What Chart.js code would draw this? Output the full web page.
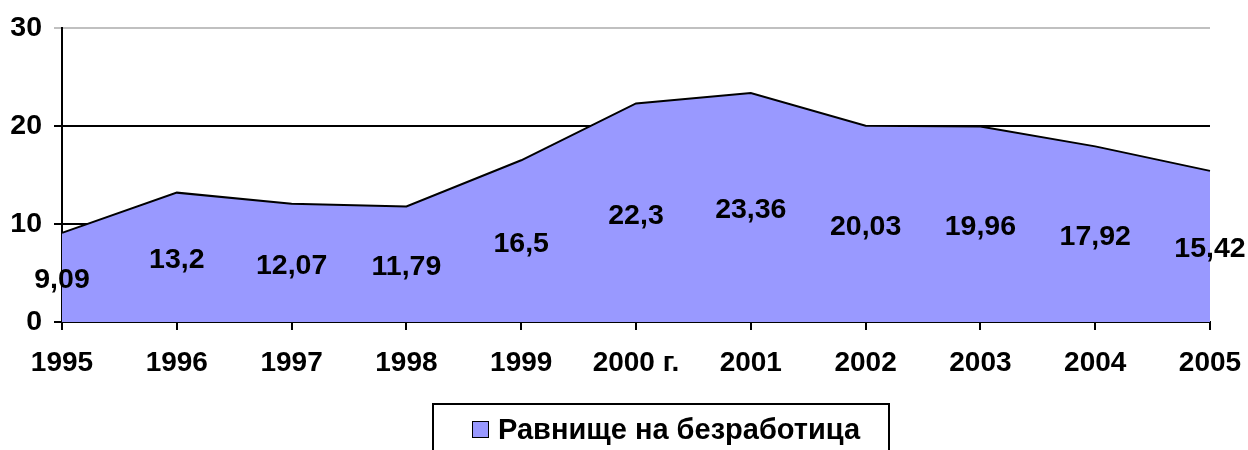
<!DOCTYPE html>
<html>
<head>
<meta charset="utf-8">
<script src="https://cdn.jsdelivr.net/npm/chart.js@4"></script>
<style>
html,body{margin:0;padding:0;background:#fff;}
canvas{display:block;}
</style>
</head>
<body>
<canvas id="c" width="1248" height="450"></canvas>
<script>
const categories = ['1995','1996','1997','1998','1999','2000 г.','2001','2002','2003','2004','2005'];
const unemployment = [9.09, 13.2, 12.07, 11.79, 16.5, 22.3, 23.36, 20.03, 19.96, 17.92, 15.42];
const seriesName = 'Равнище на безработица';
const yTicks = [0, 10, 20, 30];

const FONT = '"Liberation Sans", Arial, sans-serif';

const labelPlugin = {
  id: 'valueLabels',
  afterDatasetsDraw(chart) {
    const ctx = chart.ctx;
    const meta = chart.getDatasetMeta(0);
    const ys = chart.scales.y;
    ctx.save();
    ctx.font = 'bold 28.5px ' + FONT;
    ctx.fillStyle = '#000';
    ctx.textAlign = 'center';
    ctx.textBaseline = 'middle';
    meta.data.forEach((pt, i) => {
      const v = chart.data.datasets[0].data[i];
      const y = ys.getPixelForValue(v / 2) + 3;
      ctx.fillText(String(v).replace('.', ','), pt.x, y);
    });
    ctx.restore();
  },
  afterDraw(chart) {
    const ctx = chart.ctx;
    ctx.save();
    ctx.strokeStyle = '#000';
    ctx.lineWidth = 2;
    ctx.strokeRect(433, 404, 456, 60);
    ctx.fillStyle = '#9999FF';
    ctx.fillRect(472, 421, 17, 17);
    ctx.lineWidth = 1;
    ctx.strokeRect(472.5, 421.5, 16, 16);
    ctx.font = 'bold 29px ' + FONT;
    ctx.fillStyle = '#000';
    ctx.textAlign = 'left';
    ctx.textBaseline = 'middle';
    ctx.fillText(chart.data.datasets[0].label, 498, 431);
    ctx.restore();
  }
};

new Chart(document.getElementById('c'), {
  type: 'line',
  data: {
    labels: categories,
    datasets: [{
      label: seriesName,
      data: unemployment,
      fill: 'origin',
      backgroundColor: '#9999FF',
      borderColor: '#000',
      borderWidth: 2,
      pointRadius: 0,
      tension: 0
    }]
  },
  options: {
    responsive: false,
    animation: false,
    layout: { padding: { top: 28, right: 38, bottom: 0, left: 0 } },
    plugins: { legend: { display: false }, tooltip: { enabled: false } },
    scales: {
      x: {
        offset: false,
        grid: { drawOnChartArea: false, color: '#000', tickLength: 8, lineWidth: 2 },
        border: { color: '#000', width: 2 },
        ticks: { color: '#000', font: { family: FONT, size: 28, weight: 'bold' }, padding: 16, maxRotation: 0, autoSkip: false },
        afterFit(s) { s.height = 128; s.paddingLeft = 0; s.paddingRight = 0; }
      },
      y: {
        min: 0, max: 30,
        afterBuildTicks(s) { s.ticks = yTicks.map(v => ({ value: v })); },
        grid: {
          color: ctx => ctx.tick && ctx.tick.value === 30 ? '#c0c0c0' : '#000',
          lineWidth: 2,
          tickLength: 8
        },
        border: { color: '#000', width: 2 },
        ticks: { color: '#000', font: { family: FONT, size: 28.5, weight: 'bold' }, padding: 12 },
        afterFit(s) { s.width = 62; s.paddingTop = 0; s.paddingBottom = 0; }
      }
    }
  },
  plugins: [labelPlugin]
});
</script>
</body>
</html>
